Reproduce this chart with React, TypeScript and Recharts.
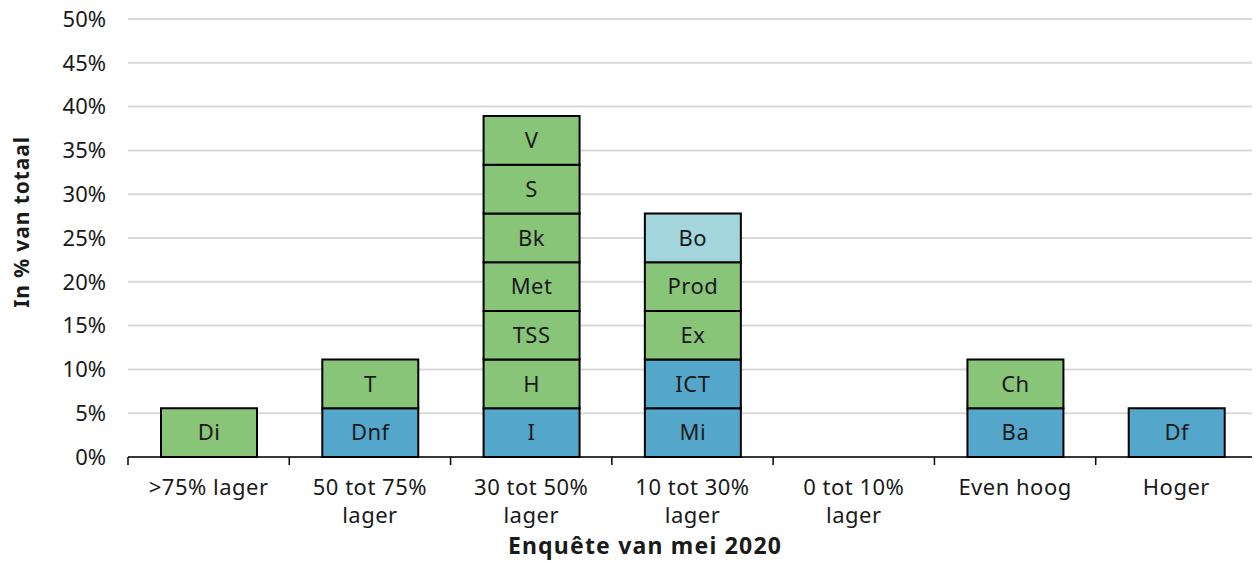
import React from "react";
import { BarChart, Bar, XAxis, YAxis, CartesianGrid, Cell, LabelList } from "recharts";

const categories = [
  [">75% lager"],
  ["50 tot 75%", "lager"],
  ["30 tot 50%", "lager"],
  ["10 tot 30%", "lager"],
  ["0 tot 10%", "lager"],
  ["Even hoog"],
  ["Hoger"],
];

// segments per category, bottom to top
const segmentLabels = [
  ["Di"],
  ["Dnf", "T"],
  ["I", "H", "TSS", "Met", "Bk", "S", "V"],
  ["Mi", "ICT", "Ex", "Prod", "Bo"],
  [],
  ["Ba", "Ch"],
  ["Df"],
];

const segmentGroups = [
  ["g"],
  ["b", "g"],
  ["b", "g", "g", "g", "g", "g", "g"],
  ["b", "b", "g", "g", "lb"],
  [],
  ["b", "g"],
  ["b"],
];

const segmentValues = [
  [5.56],
  [5.56, 5.56],
  [5.56, 5.56, 5.56, 5.56, 5.56, 5.56, 5.56],
  [5.56, 5.56, 5.56, 5.56, 5.56],
  [],
  [5.56, 5.56],
  [5.56],
];

const yTicks = [0, 5, 10, 15, 20, 25, 30, 35, 40, 45, 50];

const COLORS: Record<string, string> = {
  b: "#55a6cb",
  g: "#88c579",
  lb: "#a2d5dc",
};

const FONT = "'Noto Sans', sans-serif";
const LEVELS = 7;
const W = 1252;
const H = 553;
const PLOT_LEFT = 120;
const PLOT_RIGHT = 3;
const HALF_BAND = (W - PLOT_LEFT - PLOT_RIGHT) / categories.length / 2;

const data = categories.map((_, i) => {
  const row: Record<string, any> = { name: String(i) };
  for (let l = 0; l < LEVELS; l++) {
    row[`s${l}`] = segmentValues[i][l];
    row[`l${l}`] = segmentLabels[i][l];
  }
  return row;
});

function CategoryTick(props: any) {
  const { x, y, payload, index } = props;
  const lines = categories[Number(payload.value)] || [];
  const isLast = index === categories.length - 1;
  return (
    <g>
      <line x1={x - HALF_BAND} x2={x - HALF_BAND} y1={y} y2={y + 8} stroke="#000" strokeWidth={1.5} />
      {isLast && <line x1={x + HALF_BAND} x2={x + HALF_BAND} y1={y} y2={y + 8} stroke="#000" strokeWidth={1.5} />}
      <text x={x} y={y + 38} textAnchor="middle" fontSize={22} letterSpacing={0.5} fontFamily={FONT} fill="#1a1a1a">
        {lines.map((t: string, k: number) => (
          <tspan key={k} x={x} dy={k === 0 ? 0 : 28}>
            {t}
          </tspan>
        ))}
      </text>
    </g>
  );
}

export default function App() {
  return (
    <div style={{ width: W, height: H }}>
      <BarChart
        width={W}
        height={H}
        data={data}
        margin={{ top: 11, right: PLOT_RIGHT, left: 0, bottom: 0 }}
        barSize={96}
      >
        <CartesianGrid vertical={false} stroke="#d9d9d9" strokeWidth={2} />
        <XAxis
          dataKey="name"
          height={104}
          tickLine={false}
          tickSize={0}
          tickMargin={0}
          interval={0}
          axisLine={{ stroke: "#000", strokeWidth: 1.5 }}
          tick={<CategoryTick />}
          label={{
            content: () => (
              <text
                x={637}
                y={546}
                textAnchor="middle"
                fontSize={23}
                letterSpacing={1.2}
                fontWeight="bold"
                fontFamily={FONT}
                fill="#1a1a1a"
              >
                Enquête van mei 2020
              </text>
            ),
          }}
        />
        <YAxis
          width={PLOT_LEFT}
          domain={[0, 50]}
          ticks={yTicks}
          interval={0}
          axisLine={false}
          tickLine={false}
          tickSize={8}
          tickMargin={14}
          tickFormatter={(v: number) => `${v}%`}
          tick={{ fontSize: 22, fontFamily: FONT, fill: "#1a1a1a" }}
          label={{
            content: () => (
              <text
                x={21}
                y={214}
                transform="rotate(-90 21 214)"
                textAnchor="middle"
                fontSize={21}
                letterSpacing={0.9}
                fontWeight="bold"
                fontFamily={FONT}
                fill="#1a1a1a"
              >
                In % van totaal
              </text>
            ),
          }}
        />
        {Array.from({ length: LEVELS }, (_, l) => (
          <Bar key={l} dataKey={`s${l}`} stackId="a" stroke="#000" strokeWidth={2} isAnimationActive={false}>
            {data.map((_, i) => (
              <Cell key={i} fill={COLORS[segmentGroups[i][l]] || "none"} />
            ))}
            <LabelList
              dataKey={`l${l}`}
              position="center"
              fontSize={22}
              letterSpacing={0.5}
              fontFamily={FONT}
              fill="#1a1a1a"
            />
          </Bar>
        ))}
      </BarChart>
    </div>
  );
}
